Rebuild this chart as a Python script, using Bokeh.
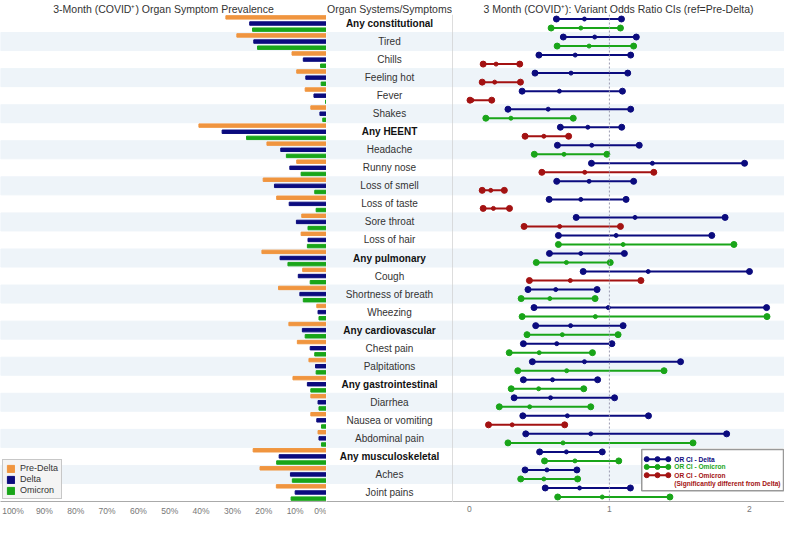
from bokeh.plotting import figure
from bokeh.layouts import row
from bokeh.models import (ColumnDataSource, Range1d, FixedTicker,
                          PrintfTickFormatter, Span, Legend, LegendItem)
from bokeh.transform import dodge
from bokeh.core.properties import value, field
from bokeh.embed import file_html
from bokeh.resources import INLINE

# ---------------- data ----------------
symptoms = ["Any constitutional", "Tired", "Chills", "Feeling hot", "Fever", "Shakes",
            "Any HEENT", "Headache", "Runny nose", "Loss of smell", "Loss of taste",
            "Sore throat", "Loss of hair", "Any pulmonary", "Cough", "Shortness of breath",
            "Wheezing", "Any cardiovascular", "Chest pain", "Palpitations",
            "Any gastrointestinal", "Diarrhea", "Nausea or vomiting", "Abdominal pain",
            "Any musculoskeletal", "Aches", "Joint pains"]

# prevalence (%)
pre_delta = [32.1, 28.6, 11.0, 9.5, 6.8, 5.0, 40.7, 19.0, 9.5, 20.2, 15.9, 7.9, 8.1, 20.6,
             7.6, 15.3, 3.1, 12.0, 9.3, 5.6, 10.7, 5.0, 5.0, 2.7, 23.4, 21.2, 16.0]
delta = [24.5, 23.2, 7.4, 6.6, 4.0, 2.1, 33.3, 14.6, 11.7, 16.6, 11.9, 9.6, 5.9, 14.8,
         9.0, 8.5, 2.7, 7.7, 5.2, 3.5, 6.1, 2.7, 3.1, 2.4, 15.1, 11.5, 10.0]
omicron = [23.6, 22.0, 1.9, 1.7, 0.3, 1.2, 25.5, 12.8, 8.1, 3.75, 3.3, 5.9, 6.1, 12.3,
           5.2, 7.4, 2.4, 6.8, 3.75, 3.3, 5.0, 2.4, 1.6, 1.6, 15.9, 10.9, 11.3]

# odds ratios (ref = Pre-Delta)
delta_lo = [0.622, 0.671, 0.497, 0.469, 0.377, 0.276, 0.650, 0.629, 0.872, 0.624, 0.570,
            0.763, 0.636, 0.572, 0.813, 0.419, 0.462, 0.474, 0.386, 0.450, 0.386, 0.320,
            0.382, 0.403, 0.502, 0.398, 0.542]
delta_or = [0.822, 0.895, 0.756, 0.726, 0.643, 0.563, 0.846, 0.874, 1.307, 0.855, 0.796,
            1.183, 1.048, 0.796, 1.277, 0.617, 0.992, 0.723, 0.624, 0.822, 0.594, 0.580,
            0.700, 0.867, 0.693, 0.554, 0.787]
delta_hi = [1.086, 1.192, 1.152, 1.131, 1.093, 1.152, 1.088, 1.213, 1.965, 1.173, 1.119,
            1.826, 1.731, 1.107, 2.000, 0.912, 2.122, 1.098, 1.018, 1.508, 0.916, 1.037,
            1.279, 1.837, 0.949, 0.768, 1.150]
omi_lo = [0.584, 0.627, 0.099, 0.092, 0.005, 0.118, 0.398, 0.464, 0.518, 0.092, 0.099,
          0.391, 0.636, 0.478, 0.429, 0.370, 0.377, 0.412, 0.285, 0.346, 0.299, 0.214,
          0.137, 0.276, 0.537, 0.367, 0.631]
omi_or = [0.796, 0.855, 0.191, 0.181, 0.019, 0.297, 0.532, 0.676, 0.824, 0.153, 0.172,
          0.645, 1.098, 0.693, 0.721, 0.575, 0.900, 0.664, 0.499, 0.695, 0.495, 0.431,
          0.306, 0.669, 0.754, 0.532, 0.949]
omi_hi = [1.079, 1.173, 0.360, 0.365, 0.160, 0.742, 0.709, 0.982, 1.317, 0.250, 0.287,
          1.079, 1.889, 1.006, 1.225, 0.898, 2.125, 1.062, 0.879, 1.390, 0.817, 0.867,
          0.681, 1.597, 1.067, 0.773, 1.432]
omi_sig = [0, 0, 1, 1, 1, 0, 1, 0, 1, 1, 1, 1, 0, 0, 1, 0, 0, 0, 0, 0, 0, 0, 1, 0, 0, 0, 0]

prev_ticks = list(range(0, 101, 10))
or_ticks = [0, 1, 2]

# ---------------- style ----------------
FONT = "Liberation Sans"
C_PRE = "#F0953F"
C_DELTA = "#0B0B7E"
C_OMI = "#19A519"
C_SIG = "#A31212"
C_BAND = "#EEF4F9"
C_AXIS = "#AAAAAA"
H = 518
TOP = 14
BOT = 15
L_MAX = 104
R_MIN, R_MAX = -0.12, 2.25
N = len(symptoms)

src = ColumnDataSource(dict(
    idx=list(range(N)), symptom=symptoms, pre=pre_delta, delta=delta, omi=omicron,
    d_lo=delta_lo, d_or=delta_or, d_hi=delta_hi,
    o_lo=omi_lo, o_or=omi_or, o_hi=omi_hi,
    o_col=[C_SIG if s else C_OMI for s in omi_sig],
    style=["bold" if s.startswith("Any") else "normal" for s in symptoms],
    tcol=["#111111" if s.startswith("Any") else "#333333" for s in symptoms],
))
band_src = ColumnDataSource(dict(idx=list(range(1, N, 2))))


def base(width, xr, title):
    p = figure(width=width, height=H, x_range=xr, y_range=Range1d(N - 0.5, -0.5),
               output_backend="svg",
               toolbar_location=None, min_border_left=0, min_border_right=0,
               min_border_top=TOP, min_border_bottom=BOT, title=title)
    p.title.align = "center"
    p.title.text_font = FONT
    p.title.text_font_size = "10.5px"
    p.title.text_font_style = "normal"
    p.title.text_color = "#333333"
    p.title.standoff = 0
    p.outline_line_color = None
    p.xgrid.visible = False
    p.ygrid.visible = False
    p.yaxis.visible = False
    p.xaxis.axis_line_color = C_AXIS
    p.xaxis.major_tick_line_color = None
    p.xaxis.minor_tick_line_color = None
    p.xaxis.major_tick_out = 0
    p.xaxis.major_label_standoff = 4
    p.xaxis.major_label_text_font = FONT
    p.xaxis.major_label_text_font_size = "8.5px"
    p.xaxis.major_label_text_color = "#777777"
    return p


# ---------------- left: prevalence ----------------
p1 = base(326, Range1d(L_MAX, 0), "3-Month (COVID\u207a) Organ Symptom Prevalence")
p1.hbar(y="idx", left=0, right=L_MAX, height=1, color=C_BAND, source=band_src)
r_pre = p1.hbar(y=dodge("idx", -0.34), left=0, right="pre", height=0.19,
                color=C_PRE, source=src)
r_del = p1.hbar(y="idx", left=0, right="delta", height=0.19,
                color=C_DELTA, source=src)
r_omi = p1.hbar(y=dodge("idx", 0.34), left=0, right="omi", height=0.19,
                color=C_OMI, source=src)
p1.xaxis.ticker = FixedTicker(ticks=prev_ticks)
p1.xaxis.formatter = PrintfTickFormatter(format="%d%%")
leg = Legend(items=[LegendItem(label="Pre-Delta", renderers=[r_pre]),
                    LegendItem(label="Delta", renderers=[r_del]),
                    LegendItem(label="Omicron", renderers=[r_omi])],
             location="bottom_left")
leg.label_text_font = FONT
leg.label_text_font_size = "9px"
leg.label_text_color = "#333333"
leg.glyph_width = 9
leg.glyph_height = 9
leg.label_height = 9
leg.spacing = 1
leg.padding = 3
leg.margin = 2
leg.label_standoff = 5
leg.border_line_color = "#999999"
leg.border_line_width = 1.5
leg.background_fill_color = "#F4F4F4"
leg.background_fill_alpha = 1
p1.add_layout(leg)

# ---------------- middle: labels ----------------
p2 = base(126, Range1d(0, 1), "Organ Systems/Symptoms")
p2.hbar(y="idx", left=0, right=1, height=1, color=C_BAND, source=band_src)
p2.text(x=0.5, y="idx", text="symptom", source=src, text_align="center",
        text_baseline="middle", text_font=value(FONT), text_font_size="10px",
        text_font_style=field("style"), text_color="tcol")
p2.xaxis.ticker = FixedTicker(ticks=[])

# ---------------- right: odds ratios ----------------
p3 = base(332, Range1d(R_MIN, R_MAX),
          "3 Month (COVID\u207a): Variant Odds Ratio CIs (ref=Pre-Delta)")
p3.hbar(y="idx", left=R_MIN, right=R_MAX, height=1, color=C_BAND, source=band_src)
p3.add_layout(Span(location=R_MIN, dimension="height", line_color="#BBBBBB", line_width=1))
p3.add_layout(Span(location=1, dimension="height", line_color="#9A9AB0", line_width=1,
                   line_dash="2 2"))
yd = dodge("idx", -0.25)
yo = dodge("idx", 0.25)
p3.segment(x0="d_lo", x1="d_hi", y0=yd, y1=yd, line_color=C_DELTA, line_width=2, source=src)
p3.scatter(x="d_lo", y=yd, size=6, color=C_DELTA, source=src)
p3.scatter(x="d_hi", y=yd, size=6, color=C_DELTA, source=src)
p3.scatter(x="d_or", y=yd, size=4, color=C_DELTA, source=src)
p3.segment(x0="o_lo", x1="o_hi", y0=yo, y1=yo, line_color="o_col", line_width=2, source=src)
p3.scatter(x="o_lo", y=yo, size=6, color="o_col", source=src)
p3.scatter(x="o_hi", y=yo, size=6, color="o_col", source=src)
p3.scatter(x="o_or", y=yo, size=4, color="o_col", source=src)
p3.xaxis.ticker = FixedTicker(ticks=or_ticks)

# custom legend (fractional plot coordinates)
p3.extra_x_ranges = {"fx": Range1d(0, 1)}
p3.extra_y_ranges = {"fy": Range1d(0, 1)}
leg_labels = ["OR CI - Delta", "OR CI - Omicron", "OR CI - Omicron",
              "(Significantly different from Delta)"]
leg_colors = [C_DELTA, C_OMI, C_SIG, C_SIG]
leg_y = [0.087, 0.071, 0.054, 0.036]
p3.quad(left=0.57, right=0.997, bottom=0.022, top=0.107, fill_color="white",
        line_color="#999999", line_width=1.5, x_range_name="fx", y_range_name="fy")
gl_src = ColumnDataSource(dict(y=leg_y[:3], c=leg_colors[:3]))
p3.segment(x0=0.585, x1=0.65, y0="y", y1="y", line_color="c", line_width=2,
           source=gl_src, x_range_name="fx", y_range_name="fy")
for xx in (0.585, 0.6175, 0.65):
    p3.scatter(x=xx, y="y", size=5, color="c", source=gl_src,
               x_range_name="fx", y_range_name="fy")
tl_src = ColumnDataSource(dict(y=leg_y, c=leg_colors, t=leg_labels))
p3.text(x=0.668, y="y", text="t", text_color="c", source=tl_src, text_align="left",
        text_baseline="middle", text_font=value(FONT), text_font_size="6.6px",
        text_font_style="bold", x_range_name="fx", y_range_name="fy")

layout = row(p1, p2, p3, spacing=0)
open("out.html", "w").write(file_html(layout, INLINE))
